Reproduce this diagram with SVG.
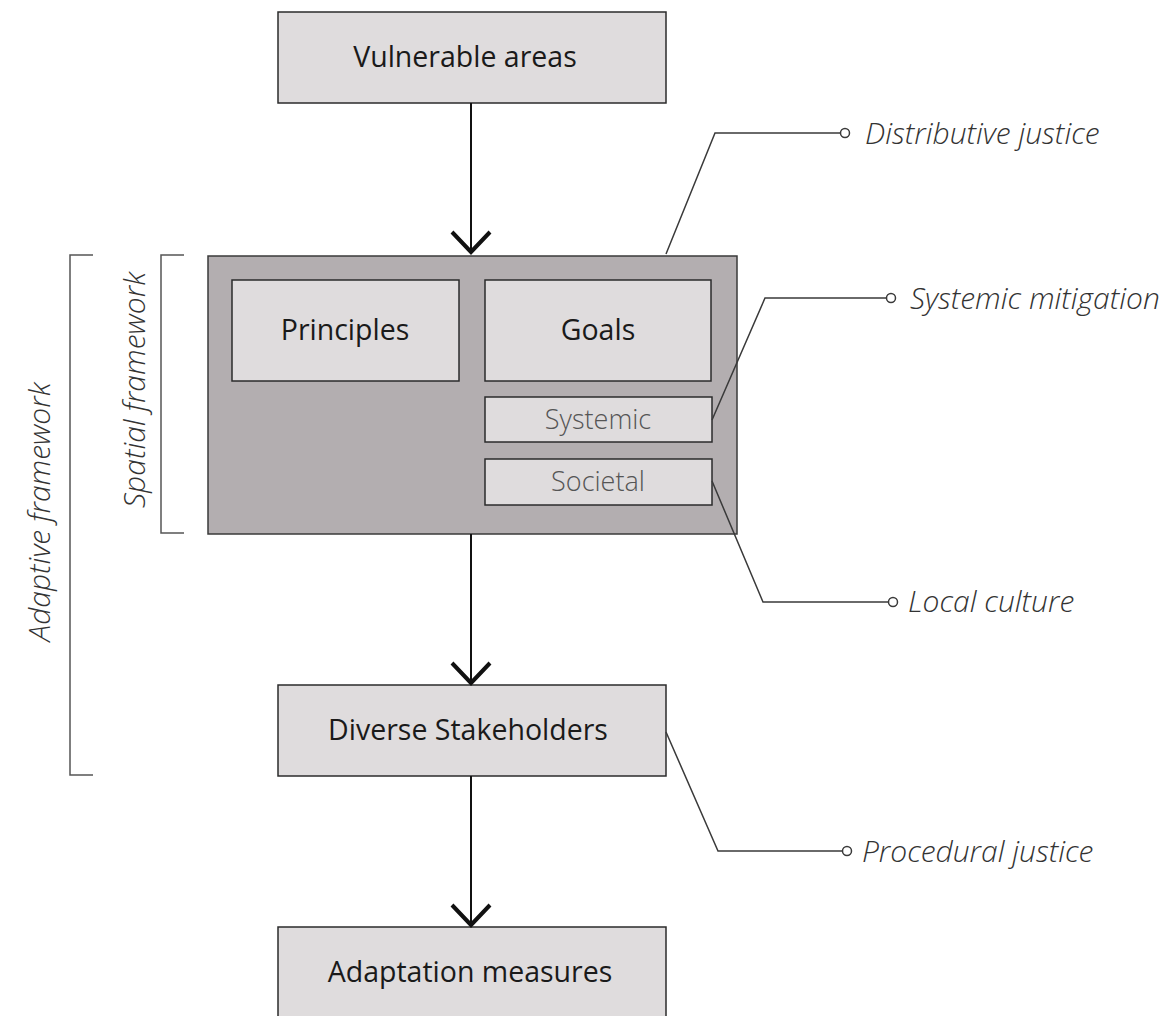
<svg xmlns="http://www.w3.org/2000/svg" width="1173" height="1016" viewBox="0 0 1173 1016">
<defs>
<style>
.box{fill:#dfdcdd;stroke:#2b2b2b;stroke-width:1.5}
.outer{fill:#b3aeb0;stroke:#3a3a3a;stroke-width:1.5}
.t{font-family:"Open Sans","Noto Sans",sans-serif;font-size:28.5px;fill:#1a1a1a;text-anchor:middle}
.ts{font-family:"Open Sans","Noto Sans",sans-serif;font-size:27px;fill:#555;text-anchor:middle;font-weight:300}
.lab{font-family:"Open Sans","Noto Sans",sans-serif;font-size:30px;font-style:italic;font-weight:300;fill:#333}
.flow{stroke:#111;stroke-width:2;fill:none}
.lead{stroke:#3a3a3a;stroke-width:1.5;fill:none}
.dot{fill:#fff;stroke:#3a3a3a;stroke-width:1.5}
.br{stroke:#555;stroke-width:1.5;fill:none}
</style>
<marker id="chev" markerUnits="userSpaceOnUse" viewBox="-24 -24 28 48" refX="0" refY="0" markerWidth="28" markerHeight="48" orient="auto">
<path d="M-20,-19 L0,0 L-20,19" fill="none" stroke="#111" stroke-width="4"/>
</marker>
</defs>
<rect width="1173" height="1016" fill="#fff"/>

<g id="brackets">
<path class="br" d="M93,255 H70 V775 H93"/>
<text class="lab" transform="translate(50,512) rotate(-90)" text-anchor="middle">Adaptive framework</text>
<path class="br" d="M184,255 H161 V533 H184"/>
<text class="lab" transform="translate(145,390) rotate(-90)" text-anchor="middle">Spatial framework</text>
</g>

<g id="vulnerable">
<rect class="box" x="278" y="12" width="388" height="91"/>
<text class="t" x="465" y="67">Vulnerable areas</text>
</g>

<g id="spatial">
<rect class="outer" x="208" y="256" width="529" height="278"/>
</g>
<g id="principles">
<rect class="box" x="232" y="280" width="227" height="101"/>
<text class="t" x="345" y="340">Principles</text>
</g>
<g id="goals">
<rect class="box" x="485" y="280" width="226" height="101"/>
<text class="t" x="598" y="340">Goals</text>
</g>
<g id="systemic">
<rect class="box" x="485" y="397" width="227" height="45"/>
<text class="ts" x="598" y="429">Systemic</text>
</g>
<g id="societal">
<rect class="box" x="485" y="459" width="227" height="46"/>
<text class="ts" x="598" y="491">Societal</text>
</g>

<g id="stakeholders">
<rect class="box" x="278" y="685" width="388" height="91"/>
<text class="t" x="468" y="740">Diverse Stakeholders</text>
</g>
<g id="adaptation">
<rect class="box" x="278" y="927" width="388" height="100"/>
<text class="t" x="470" y="982">Adaptation measures</text>
</g>

<g id="connectors">
<line class="flow" x1="471" y1="103" x2="471" y2="252" marker-end="url(#chev)"/>
<line class="flow" x1="471" y1="534" x2="471" y2="683" marker-end="url(#chev)"/>
<line class="flow" x1="471" y1="776" x2="471" y2="925" marker-end="url(#chev)"/>
<path class="lead" d="M666,254 L715,133 H840"/>
<circle class="dot" cx="845" cy="133" r="4.5"/>
<path class="lead" d="M712,420 L765,298 H886"/>
<circle class="dot" cx="891" cy="298" r="4.5"/>
<path class="lead" d="M712,481 L763,602 H888"/>
<circle class="dot" cx="893" cy="602" r="4.5"/>
<path class="lead" d="M666,732 L718,851 H842"/>
<circle class="dot" cx="847" cy="851" r="4.5"/>
</g>

<g id="labels">
<text class="lab" x="865" y="144">Distributive justice</text>
<text class="lab" x="910" y="309">Systemic mitigation</text>
<text class="lab" x="908" y="612">Local culture</text>
<text class="lab" x="862" y="862">Procedural justice</text>
</g>
</svg>
